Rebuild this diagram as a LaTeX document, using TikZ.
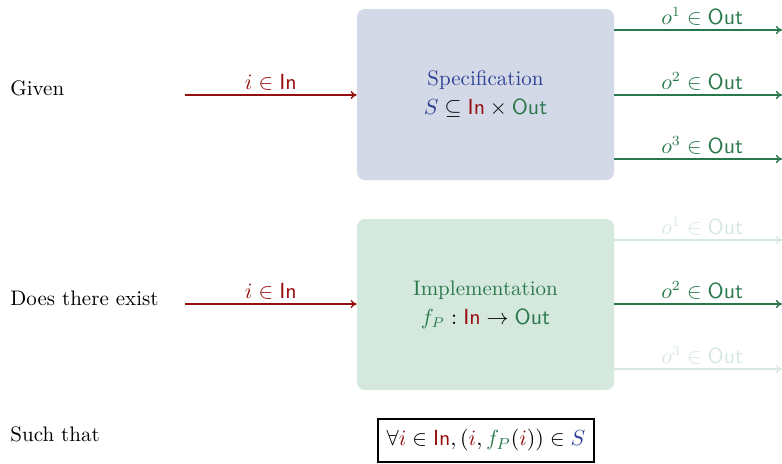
\documentclass[tikz,border=0pt]{standalone}
\usepackage{amsmath,amssymb}
\usetikzlibrary{arrows.meta}
\definecolor{specfill}{RGB}{212,217,232}
\definecolor{implfill}{RGB}{213,232,222}
\definecolor{cblue}{RGB}{45,65,150}
\definecolor{cred}{RGB}{150,15,15}
\definecolor{cgreen}{RGB}{40,120,75}
\definecolor{cfade}{RGB}{215,232,224}
\newcommand{\In}{\mathsf{In}}
\newcommand{\Out}{\mathsf{Out}}
\begin{document}
\begin{tikzpicture}[x=0.5pt,y=-0.5pt,
  every node/.style={font=\fontsize{10.5}{12}\selectfont},
  blk/.style={rounded corners=4pt, inner sep=0pt, minimum width=128.5pt, minimum height=85.5pt, align=center},
  inarr/.style={draw=cred, line width=0.7pt, -{To[length=3pt,width=4pt]}},
  outarr/.style={draw=cgreen, line width=0.7pt, -{To[length=3pt,width=4pt]}},
  fadearr/.style={draw=cfade, line width=0.7pt, -{To[length=3pt,width=4pt]}},
  lbl/.style={anchor=west, inner sep=0pt}]
\useasboundingbox (0,0) rectangle (782,463);
% left labels
\node[lbl] (given) at (10,88) {Given};
\node[lbl] (exist) at (10,298) {Does there exist};
\node[lbl] (such) at (10,434) {Such that};
% boxes
\node[blk, fill=specfill] (spec) at (485.5,94.5) {\textcolor{cblue}{Specification}\\[2.5pt] $\textcolor{cblue}{S}\subseteq\textcolor{cred}{\In}\times\textcolor{cgreen}{\Out}$};
\node[blk, fill=implfill] (impl) at (485.5,304.5) {\textcolor{cgreen}{Implementation}\\[2.5pt] $\textcolor{cgreen}{f_P}:\textcolor{cred}{\In}\to\textcolor{cgreen}{\Out}$};
% inputs
\coordinate (in1) at (185,95);
\coordinate (in2) at (185,304);
\draw[inarr] (in1) -- node[above, text=cred, inner sep=2pt] {$i\in\In$} (in1 -| spec.west);
\draw[inarr] (in2) -- node[above, text=cred, inner sep=2pt] {$i\in\In$} (in2 -| impl.west);
% outputs spec
\coordinate (e1) at (782,30);
\coordinate (e2) at (782,95);
\coordinate (e3) at (782,159);
\draw[outarr] (e1 -| spec.east) -- node[above, text=cgreen, inner sep=2pt, xshift=2pt] {$o^1\in\Out$} (e1);
\draw[outarr] (e2 -| spec.east) -- node[above, text=cgreen, inner sep=2pt, xshift=2pt] {$o^2\in\Out$} (e2);
\draw[outarr] (e3 -| spec.east) -- node[above, text=cgreen, inner sep=2pt, xshift=2pt] {$o^3\in\Out$} (e3);
% outputs impl
\coordinate (f1) at (782,240);
\coordinate (f2) at (782,304);
\coordinate (f3) at (782,369);
\draw[fadearr] (f1 -| impl.east) -- node[above, text=cfade, inner sep=2pt, xshift=2pt] {$o^1\in\Out$} (f1);
\draw[outarr] (f2 -| impl.east) -- node[above, text=cgreen, inner sep=2pt, xshift=2pt] {$o^2\in\Out$} (f2);
\draw[fadearr] (f3 -| impl.east) -- node[above, text=cfade, inner sep=2pt, xshift=2pt] {$o^3\in\Out$} (f3);
% constraint
\node[draw=black, line width=0.7pt, minimum width=108pt, minimum height=21.5pt, inner sep=0pt, font=\fontsize{11}{13}\selectfont] (cons) at (486,440.5)
  {$\forall\textcolor{cred}{i}\in\textcolor{cred}{\In},(\textcolor{cred}{i},\textcolor{cgreen}{f_P}(\textcolor{cred}{i}))\in\textcolor{cblue}{S}$};
\end{tikzpicture}
\end{document}
